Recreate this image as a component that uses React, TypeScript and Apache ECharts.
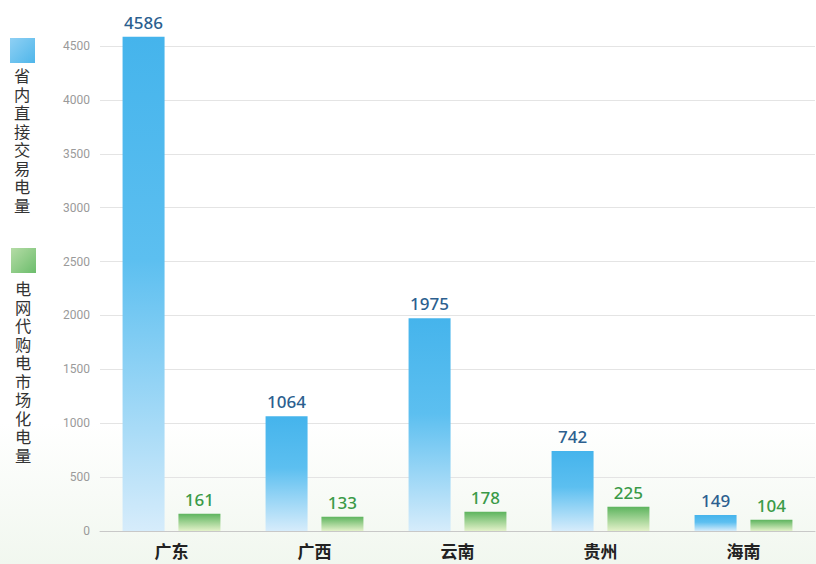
import React, { useEffect, useRef } from "react";
import * as echarts from "echarts";

const categories = ["广东", "广西", "云南", "贵州", "海南"];
const directTrade = [4586, 1064, 1975, 742, 149];
const gridPurchase = [161, 133, 178, 225, 104];
const seriesNames = ["省内直接交易电量", "电网代购电市场化电量"];

function verticalText(name: string, x: number, y0: number) {
  return name.split("").map((ch, i) => ({
    type: "text",
    x,
    y: y0 + i * 18.5,
    scaleX: 1.3,
    scaleY: 1.3,
    style: {
      text: ch,
      fontSize: 12.5,
      fill: "#333",
      align: "center",
      verticalAlign: "top",
      fontFamily: "Noto Sans CJK SC",
    },
  }));
}

export default function App() {
  const ref = useRef<HTMLDivElement>(null);
  useEffect(() => {
    const chart = echarts.init(ref.current!, null, { renderer: "svg" });
    const blue = new echarts.graphic.LinearGradient(0, 0, 0, 1, [
      { offset: 0, color: "#45b4ec" },
      { offset: 0.45, color: "#5cbff0" },
      { offset: 1, color: "#d6ecfb" },
    ]);
    const green = new echarts.graphic.LinearGradient(0, 0, 0, 1, [
      { offset: 0, color: "#5db45e" },
      { offset: 1, color: "#e3f1c9" },
    ]);
    chart.setOption({
      animation: false,
      backgroundColor: new echarts.graphic.LinearGradient(0, 0, 0, 1, [
        { offset: 0, color: "#ffffff" },
        { offset: 0.75, color: "#ffffff" },
        { offset: 1, color: "#f1f7ef" },
      ]),
      grid: { left: 100, right: 1, top: 46, bottom: 33 },
      xAxis: {
        type: "category",
        data: categories,
        axisLine: { lineStyle: { color: "#c8c8c8", width: 1 } },
        axisTick: { length: 18, lineStyle: { color: "#c8c8c8" } },
        axisLabel: {
          color: "#222",
          fontSize: 17,
          fontWeight: "bold",
          margin: 11,
          fontFamily: "Noto Sans CJK SC",
        },
      },
      yAxis: {
        type: "value",
        min: 0,
        max: 4500,
        interval: 500,
        axisLine: { show: false },
        axisTick: { show: false },
        axisLabel: {
          color: "#9a9a9a",
          fontSize: 12,
          margin: 10,
          fontFamily: "Liberation Sans Narrow, Roboto",
          formatter: (v: number) => String(v),
        },
        splitLine: { lineStyle: { color: "#e4e4e4" } },
      },
      series: [
        {
          name: seriesNames[0],
          type: "bar",
          data: directTrade,
          barWidth: 42,
          barGap: "33%",
          clip: false,
          itemStyle: { color: blue },
          label: {
            show: true,
            position: "top",
            distance: 6,
            color: "#2c5f8f",
            fontSize: 17,
            fontWeight: 500,
            fontFamily: "Noto Sans",
          },
        },
        {
          name: seriesNames[1],
          type: "bar",
          data: gridPurchase,
          barWidth: 42,
          barGap: "33%",
          clip: false,
          itemStyle: { color: green },
          label: {
            show: true,
            position: "top",
            distance: 6,
            color: "#3a9a48",
            fontSize: 17,
            fontWeight: 500,
            fontFamily: "Noto Sans",
          },
        },
      ],
      graphic: [
        {
          type: "rect",
          shape: { x: 10, y: 38, width: 25, height: 25 },
          style: {
            fill: new echarts.graphic.LinearGradient(0, 0, 1, 1, [
              { offset: 0, color: "#8fd0f4" },
              { offset: 1, color: "#4fb6ea" },
            ]),
          },
        },
        ...verticalText(seriesNames[0], 22, 67),
        {
          type: "rect",
          shape: { x: 11, y: 248, width: 25, height: 25 },
          style: {
            fill: new echarts.graphic.LinearGradient(0, 0, 1, 1, [
              { offset: 0, color: "#b5dca6" },
              { offset: 1, color: "#6cbd6c" },
            ]),
          },
        },
        ...verticalText(seriesNames[1], 23, 280),
      ],
    });
    return () => chart.dispose();
  }, []);
  return <div ref={ref} style={{ width: 816, height: 564, position: "fixed", left: 0, top: 0 }} />;
}
